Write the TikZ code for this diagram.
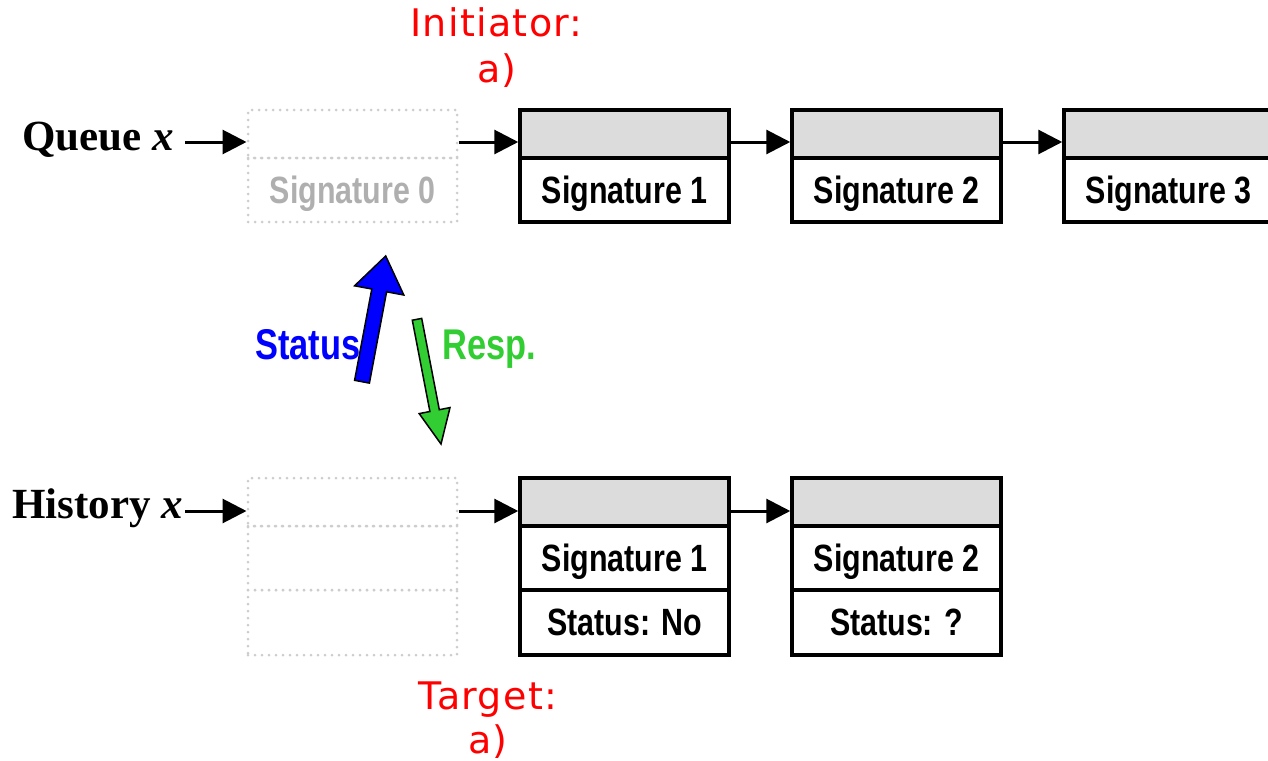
\documentclass[tikz,border=0pt]{standalone}
\usepackage{fontspec}
\setmainfont{Liberation Serif}
\newfontfamily\narrowbold[FakeStretch=0.8]{Liberation Sans Bold}
\newfontfamily\redfont[LetterSpace=3.5]{DejaVu Sans}
\usetikzlibrary{arrows.meta}
\definecolor{boxgray}{RGB}{220,220,220}
\definecolor{dotgray}{RGB}{205,205,205}
\definecolor{ghosttext}{RGB}{175,175,175}
\definecolor{respgreen}{RGB}{50,205,50}
\begin{document}
\begin{tikzpicture}[x=1pt,y=-1pt,
  cell/.style={draw=black, line width=3.5pt, minimum width=209pt, inner sep=0pt,
    font=\narrowbold\fontsize{38}{38}\selectfont, text height=26pt, text depth=0pt},
  headcell/.style={cell, fill=boxgray, minimum height=48pt},
  rowcell/.style={cell, minimum height=64pt},
  ghost/.style={draw=dotgray, line width=3pt, dash pattern=on 0pt off 7pt, line cap=round,
    minimum width=209pt, inner sep=0pt, text=ghosttext,
    font=\narrowbold\fontsize{38}{38}\selectfont, text height=26pt, text depth=0pt},
  arr/.style={line width=3pt, -{Triangle[length=24pt,width=24pt]}},
  lbl/.style={font=\bfseries\fontsize{43}{43}\selectfont, inner sep=0pt, anchor=base west},
  redlbl/.style={text=red, font=\redfont\fontsize{38}{38}\selectfont, inner sep=0pt, anchor=base},
  fat/.style={draw=black, line width=1.5pt, line join=miter}
]
\useasboundingbox (0,0) rectangle (1268,760);

% Queue row
\node[ghost, minimum height=48pt] (q0top) at (352.5,134) {};
\node[ghost, minimum height=64pt] (q0bot) at (352.5,190) {Signature 0};
\node[headcell] (q1top) at (624.5,134) {};
\node[rowcell]  (q1bot) at (624.5,190) {Signature 1};
\node[headcell] (q2top) at (896.5,134) {};
\node[rowcell]  (q2bot) at (896.5,190) {Signature 2};
\node[headcell] (q3top) at (1168.5,134) {};
\node[rowcell]  (q3bot) at (1168.5,190) {Signature 3};

% History row
\node[ghost, minimum height=48pt] (h0top) at (352.5,502) {};
\node[ghost, minimum height=64pt] (h0mid) at (352.5,558) {};
\node[ghost, minimum height=65pt] (h0bot) at (352.5,622.5) {};
\node[headcell] (h1top) at (624.5,502) {};
\node[rowcell]  (h1sig) at (624.5,558) {Signature 1};
\node[rowcell, minimum height=65pt] (h1st) at (624.5,622.5) {Status: No};
\node[headcell] (h2top) at (896.5,502) {};
\node[rowcell]  (h2sig) at (896.5,558) {Signature 2};
\node[rowcell, minimum height=65pt] (h2st) at (896.5,622.5) {Status: ?};

% Labels
\node[lbl] (ql) at (22,150) {Queue \textit{x}};
\node[lbl] (hl) at (12,518) {History \textit{x}};
\coordinate (qin) at (185,142);
\coordinate (hin) at (185,511);

% Connectors
\draw[arr] (qin) -- (qin -| q0top.west);
\draw[arr] ([yshift=-8pt]q0top.east) -- ([yshift=-8pt]q1top.west);
\draw[arr] ([yshift=-8pt]q1top.east) -- ([yshift=-8pt]q2top.west);
\draw[arr] ([yshift=-8pt]q2top.east) -- ([yshift=-8pt]q3top.west);
\draw[arr] (hin) -- (hin -| h0top.west);
\draw[arr] ([yshift=-9pt]h0top.east) -- ([yshift=-9pt]h1top.west);
\draw[arr] ([yshift=-9pt]h1top.east) -- ([yshift=-9pt]h2top.west);

% Fat arrows
\draw[fat, fill=blue] (354.6,380.3) -- (371.8,289.0) -- (354.6,285.8) -- (385.7,256)
  -- (403.8,295.0) -- (386.6,291.8) -- (369.4,383.1) -- cycle;
\draw[fat, fill=respgreen] (412.3,320.2) -- (429.9,411.5) -- (419.2,413.6) -- (441,444)
  -- (450.0,407.6) -- (439.3,409.7) -- (421.7,318.4) -- cycle;

\node[text=blue, font=\narrowbold\fontsize{43}{43}\selectfont, inner sep=0pt, anchor=base west] (status) at (255,359) {Status};
\node[text=respgreen, font=\narrowbold\fontsize{43}{43}\selectfont, inner sep=0pt, anchor=base west] (resp) at (442,359) {Resp.};

% Red labels
\node[redlbl] (init) at (496.5,37) {Initiator:};
\node[redlbl] (inita) at (497,82) {a)};
\node[redlbl] (targ) at (488,709) {Target:};
\node[redlbl] (targa) at (488,753) {a)};
\end{tikzpicture}
\end{document}
